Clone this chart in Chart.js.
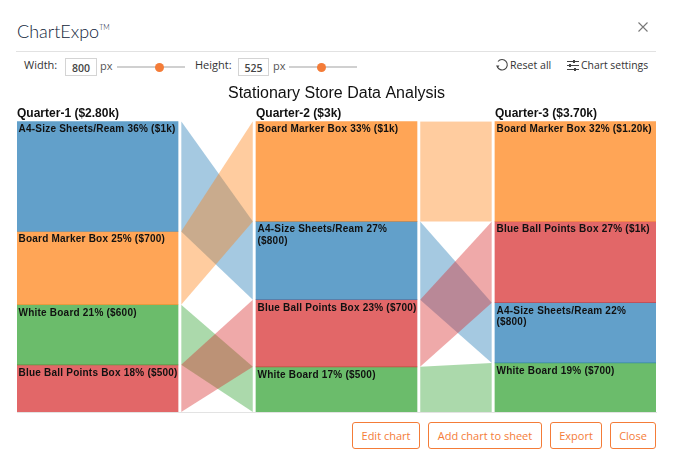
<!DOCTYPE html>
<html><head><meta charset="utf-8">
<script src="https://cdn.jsdelivr.net/npm/chart.js@4"></script>
<style>
html,body{margin:0;padding:0;background:#fff;width:673px;height:473px;overflow:hidden}
.a{position:absolute;white-space:nowrap}
.ui{font:11px "Open Sans",sans-serif;color:#333;line-height:16px}
.box{border:1px solid #d4d4d4;box-sizing:border-box;font:600 10.5px "Open Sans",sans-serif;color:#444;text-align:center;line-height:19px}
.track{height:2px;background:#d0d0d0}
.knob{width:9px;height:9px;border-radius:50%;background:#f47c38}
.btn{box-sizing:border-box;border:1px solid #f47c38;border-radius:3px;color:#f47c38;font:11px "Open Sans",sans-serif;text-align:center;height:27px;line-height:25px}
#wrap{position:absolute;left:1px;top:79px;width:672px;height:340px;overflow:hidden}
</style></head><body>
<div class="a" style="left:17px;top:13px;font:300 18px Lato,sans-serif;color:#10243a;line-height:28px">ChartExpo<span style="font-size:7px;vertical-align:8px">TM</span></div>
<svg class="a" style="left:637px;top:21px" width="12" height="12"><path d="M1.5 1.5L10.5 10.5M10.5 1.5L1.5 10.5" stroke="#777" stroke-width="1.1"/></svg>
<div class="a" style="left:16px;top:51px;width:640px;height:1px;background:#e2e2e2"></div>
<div class="a ui" style="left:24px;top:57px">Width:</div>
<div class="a box" style="left:65px;top:58px;width:32px;height:18px">800</div>
<div class="a ui" style="left:100px;top:58px;color:#555">px</div>
<div class="a track" style="left:117px;top:66px;width:68px"></div>
<div class="a knob" style="left:155px;top:63px"></div>
<div class="a ui" style="left:195px;top:57px">Height:</div>
<div class="a box" style="left:238px;top:58px;width:31px;height:18px">525</div>
<div class="a ui" style="left:273px;top:58px;color:#555">px</div>
<div class="a track" style="left:289px;top:66px;width:68px"></div>
<div class="a knob" style="left:317px;top:63px"></div>
<svg class="a" style="left:495px;top:58px" width="14" height="14" fill="none"><path d="M3 3.5A5.2 5.2 0 1 1 2.2 8.5" stroke="#444" stroke-width="1.1"/><path d="M1 7.5L4.5 7.5L2.6 10Z" fill="#444"/></svg>
<div class="a ui" style="left:510px;top:57px;font-size:10.6px">Reset all</div>
<svg class="a" style="left:566px;top:59px" width="14" height="13" fill="none" stroke="#444"><path d="M1 2.5H13M1 6.5H13M1 10.5H13"/><path d="M8 1V4M4 5V8M9 9V12" stroke-width="2"/></svg>
<div class="a ui" style="left:581px;top:57px;font-size:10.4px">Chart settings</div>
<div id="wrap"><canvas id="c" width="673" height="340"></canvas></div>
<div class="a btn" style="left:352px;top:422px;width:68px">Edit chart</div>
<div class="a btn" style="left:428px;top:422px;width:114px">Add chart to sheet</div>
<div class="a btn" style="left:550px;top:422px;width:52px">Export</div>
<div class="a btn" style="left:610px;top:422px;width:46px">Close</div>
<script>
const chartTitle = "Stationary Store Data Analysis";
const quarters = ["Quarter-1 ($2.80k)", "Quarter-2 ($3k)", "Quarter-3 ($3.70k)"];
const products = ["A4-Size Sheets/Ream", "Board Marker Box", "White Board", "Blue Ball Points Box"];
const productColors = ["31,119,180", "255,127,14", "44,160,44", "214,39,40"];
// stack order top to bottom in each quarter (index into products)
const q1Order = [0, 1, 2, 3];
const q2Order = [1, 0, 3, 2];
const q3Order = [1, 3, 0, 2];
// drawn segment values in dollars, indexed as products
const q1Values = [1062, 705, 579, 454];
const q2Values = [807, 1034, 466, 693];
const q3Values = [766, 1276, 625, 1033];
// printed labels, indexed as products
const q1Labels = [["A4-Size Sheets/Ream 36% ($1k)"], ["Board Marker Box 25% ($700)"], ["White Board 21% ($600)"], ["Blue Ball Points Box 18% ($500)"]];
const q2Labels = [["A4-Size Sheets/Ream 27%", "($800)"], ["Board Marker Box 33% ($1k)"], ["White Board 17% ($500)"], ["Blue Ball Points Box 23% ($700)"]];
const q3Labels = [["A4-Size Sheets/Ream 22%", "($800)"], ["Board Marker Box 32% ($1.20k)"], ["White Board 19% ($700)"], ["Blue Ball Points Box 27% ($1k)"]];
// ribbon draw order, last on top
const ribbonOrder = [0, 2, 1, 3];

const orders = [q1Order, q2Order, q3Order];
const values = [q1Values, q2Values, q3Values];
const labels = [q1Labels, q2Labels, q3Labels];

// share spans per quarter and product
const spans = values.map((vals, q) => {
  const total = vals.reduce((a, b) => a + b, 0);
  let run = 0; const out = [];
  orders[q].forEach(p => { out[p] = [run / total, (run + vals[p]) / total]; run += vals[p]; });
  return out;
});

const datasets = [];
let order = 1000;
[0, 1].forEach(q => {
  ribbonOrder.forEach(p => {
    const common = {type: "line", pointRadius: 0, borderWidth: 0, tension: 0, order: order--};
    datasets.push({...common, fill: "+1", backgroundColor: `rgba(${productColors[p]},.4)`,
      data: [{x: q + .35, y: spans[q][p][0]}, {x: q + .65, y: spans[q + 1][p][0]}]});
    datasets.push({...common, fill: false, backgroundColor: "transparent",
      data: [{x: q + .35, y: spans[q][p][1]}, {x: q + .65, y: spans[q + 1][p][1]}]});
  });
});
const barMeta = [];
orders.forEach((ord, q) => ord.forEach(p => {
  barMeta.push({datasetIndex: datasets.length, q, p});
  datasets.push({type: "bar", grouped: false, barThickness: 161, borderWidth: 0, order: 1,
    backgroundColor: `rgba(${productColors[p]},.7)`, data: [{x: q, y: spans[q][p]}]});
}));

const textPlugin = {
  id: "segmentText",
  afterDatasetsDraw(chart) {
    const {ctx, scales: {x, y}} = chart;
    ctx.save();
    ctx.fillStyle = "#111";
    ctx.textBaseline = "alphabetic";
    ctx.textAlign = "left";
    quarters.forEach((t, q) => {
      ctx.font = 'bold 12px "Liberation Sans"';
      ctx.fillText(t, x.getPixelForValue(q) - 80.5, y.getPixelForValue(0) - 4);
    });
    ctx.font = 'bold 10px "Liberation Sans"';
    ctx.letterSpacing = "0.22px";
    barMeta.forEach(({q, p}) => {
      labels[q][p].forEach((line, i) => {
        ctx.fillText(line, x.getPixelForValue(q) - 79, y.getPixelForValue(spans[q][p][0]) + 11 + i * 11.5);
      });
    });
    ctx.restore();
  }
};

new Chart(document.getElementById("c"), {
  type: "bar",
  data: {datasets},
  plugins: [textPlugin],
  options: {
    responsive: false, animation: false, devicePixelRatio: 1,
    layout: {padding: {left: 16, right: 18, top: 0, bottom: 7}},
    plugins: {
      legend: {display: false}, tooltip: {enabled: false},
      title: {display: true, text: chartTitle, color: "#111",
        font: {family: "Liberation Sans", size: 16, weight: "normal"}, padding: {top: 5, bottom: 18}}
    },
    scales: {
      x: {type: "linear", offset: false, min: -.337, max: 2.337,
        ticks: {display: false}, grid: {display: false, drawTicks: false},
        border: {display: true, color: "#e3e3e3"}},
      y: {type: "linear", reverse: true, min: 0, max: 1, display: false}
    }
  }
});
</script>
</body></html>
